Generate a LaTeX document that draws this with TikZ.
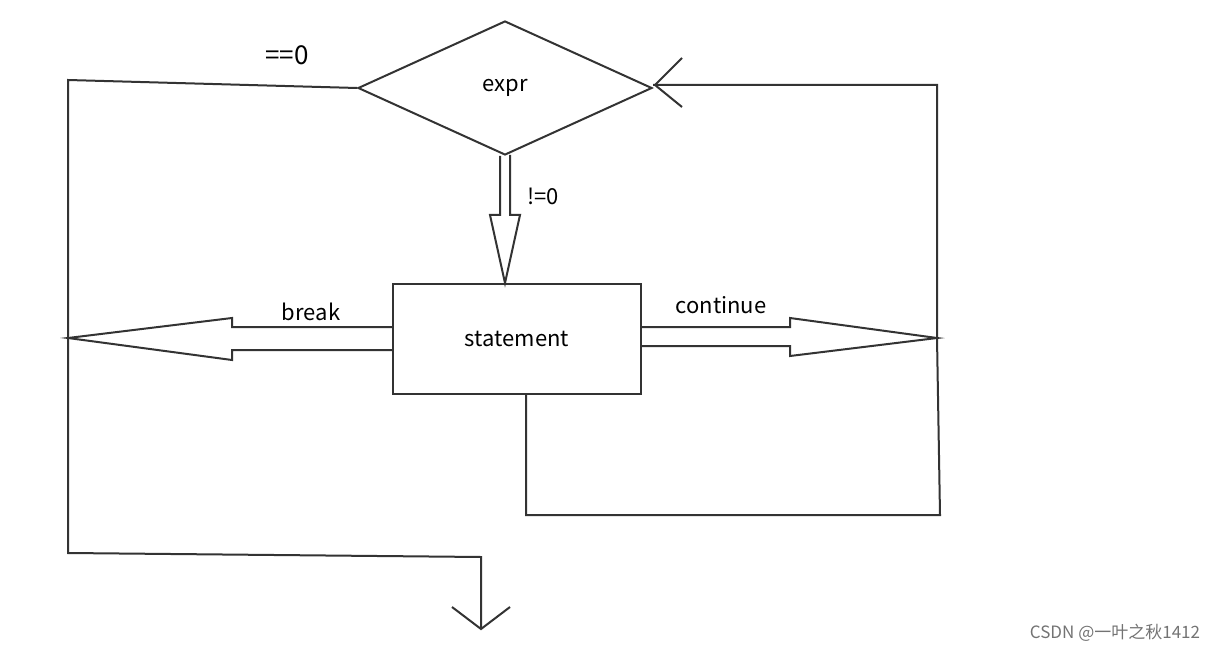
\documentclass[tikz,border=0pt]{standalone}
\usepackage{fontspec}
\setmainfont{Noto Sans CJK SC}
\usetikzlibrary{shapes.geometric}

\begin{document}
\begin{tikzpicture}[x=0.5pt, y=-0.5pt, line width=1pt, draw=black!80,
    box/.style={draw, line width=1.1pt, minimum width=124pt, minimum height=55pt},
    cond/.style={draw, diamond, aspect=2.2, minimum width=147pt, minimum height=67pt, inner sep=0pt},
    lab/.style={font=\fontsize{11}{13}\selectfont}]
            \useasboundingbox (0, 0) rectangle (1230, 652);
            % nodes
            \node (expr) at (505, 88) [cond, lab] {expr};
            \node (stmt) at (517, 339) [box, lab] {statement};
            \coordinate (tl) at (68, 80);
            \coordinate (ml) at (68, 338);
            \coordinate (bl) at (68, 553);
            \coordinate (ex) at (481, 557);
            \coordinate (out) at (481, 629);
            \coordinate (mr) at (937, 338);
            \coordinate (tr) at (937, 85);
            \coordinate (br) at (940, 515);
            \coordinate (bs) at (526, 515);
            % labels
            \node at (287, 55) [lab, font=\fontsize{13}{15}\selectfont] {==0};
            \node at (543, 196) [lab] {!=0};
            \node at (311, 312) [lab] {break};
            \node at (721, 305) [lab] {continue};
            \node at (1115, 633) [text=black!55, font=\fontsize{8.5}{10}\selectfont] {CSDN @一叶之秋1412};
            % false branch and exit
            \draw (expr.west) -- (tl) -- (bl) -- (ex) -- (out);
            \draw (452, 607) -- (out) -- (510, 607);
            % true branch (hollow arrow)
            \draw [line join=miter] (expr.south) ++(-5, 0) -- (500, 215) -- (490, 215) -- (505, 283) -- (520, 215) -- (510, 215) -- (510, 155);
            % break (hollow arrow)
            \draw (stmt.west |- 0, 327) -- (232, 327) -- (232, 318) -- (ml) -- (232, 360) -- (232, 350) -- (stmt.west |- 0, 350);
            % continue (hollow arrow)
            \draw (stmt.east |- 0, 327) -- (790, 327) -- (790, 318) -- (mr) -- (790, 356) -- (790, 346) -- (stmt.east |- 0, 346);
            % loop back
            \draw (bs |- stmt.south) -- (bs) -- (br) -- (mr) -- (tr) -- (expr.east |- tr);
            \draw (682, 58) -- (655, 85) -- (682, 107);
        \end{tikzpicture}
\end{document}
